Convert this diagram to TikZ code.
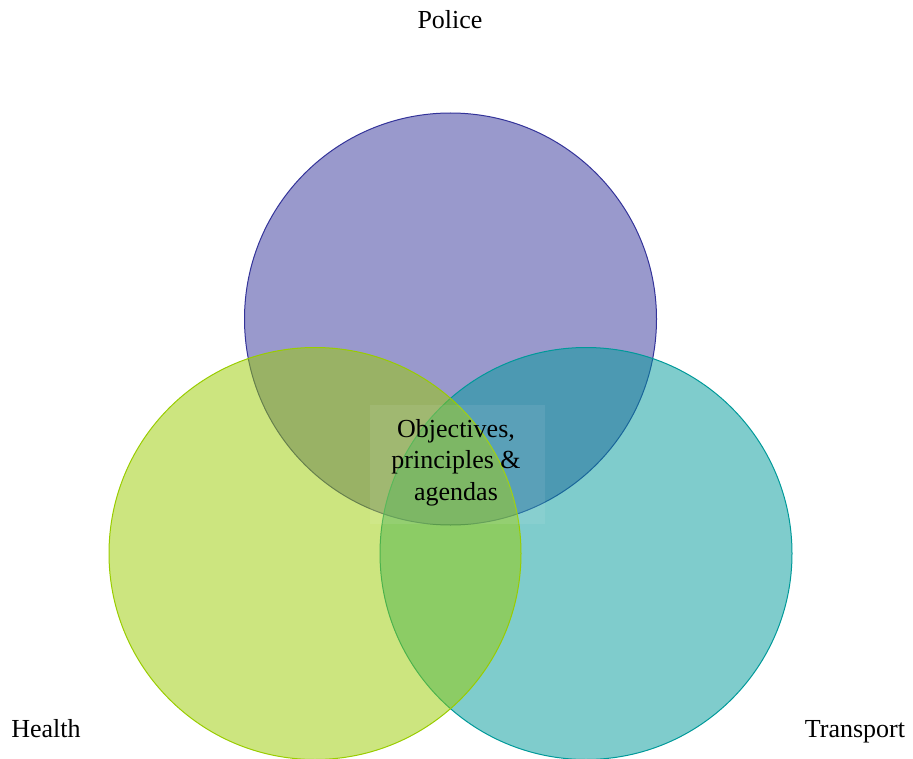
\documentclass[tikz,border=0pt]{standalone}
\usepackage{fontspec}
\setmainfont{Liberation Serif}
\definecolor{polc}{HTML}{333399}
\definecolor{healthc}{HTML}{99CC00}
\definecolor{transc}{HTML}{009999}
\begin{document}
\begin{tikzpicture}[x=0.75pt,y=-0.75pt,
  venn/.style={circle, minimum size=309pt, inner sep=0pt, line width=0.75pt, fill opacity=0.5},
  lbl/.style={font=\fontsize{19.5}{23.5}\selectfont, inner sep=0pt}]
\useasboundingbox (0,0) rectangle (913,759);
\node[venn, draw=polc, fill=polc] (police) at (450.5,319) {};
\node[venn, draw=transc, fill=transc] (transport) at (586,553.5) {};
\node[venn, draw=healthc, fill=healthc] (health) at (315,553.5) {};
\node[fill=white, fill opacity=0.08, minimum width=131.25pt, minimum height=89.25pt, inner sep=0pt] (box) at (457.5,464.5) {};
\node[lbl, align=center] (center) at (456,462.5) {Objectives,\\principles \&\\agendas};
\node[lbl, anchor=base] (polt) at (450,29) {Police};
\node[lbl, anchor=base] (healt) at (46,737) {Health};
\node[lbl, anchor=base] (trant) at (855,737) {Transport};
\end{tikzpicture}
\end{document}
